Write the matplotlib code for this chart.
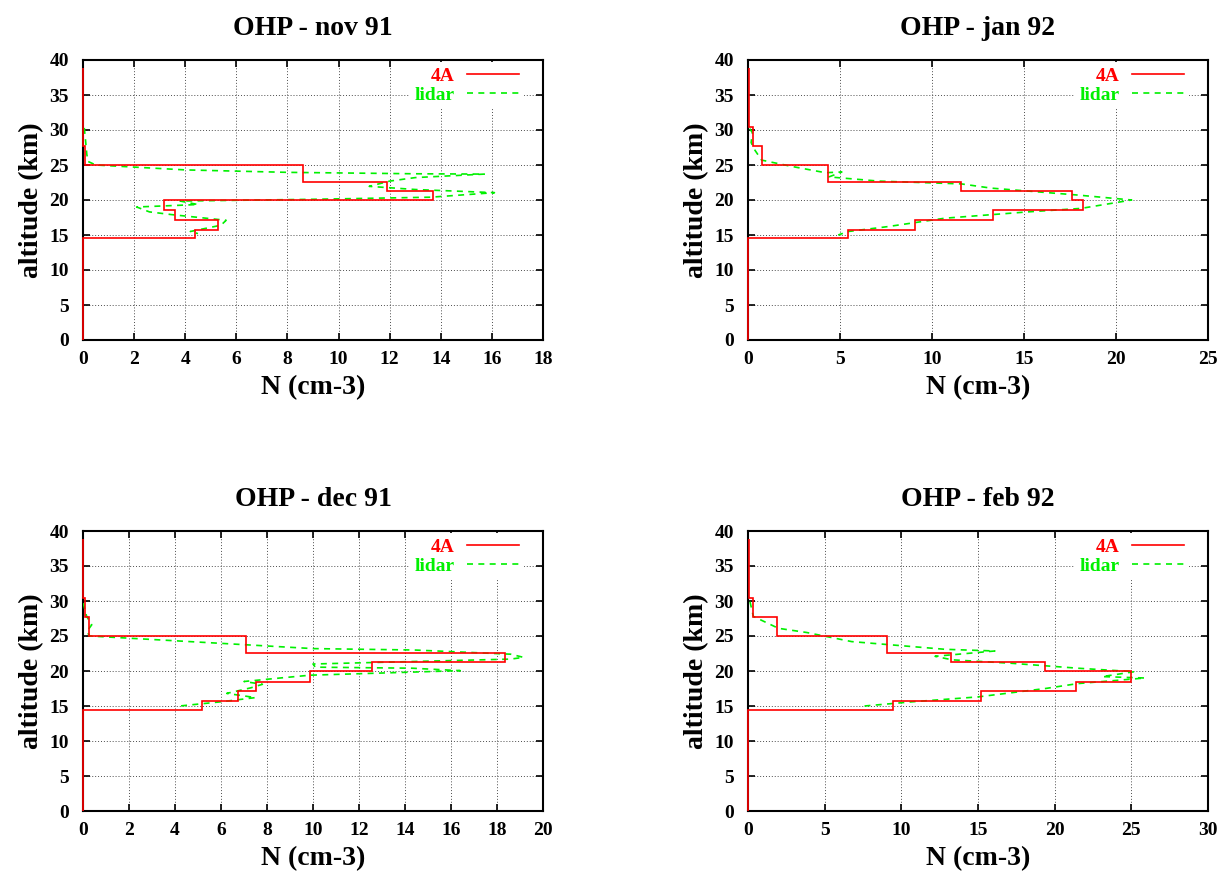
import matplotlib
matplotlib.use("Agg")
import matplotlib.pyplot as plt
from matplotlib.font_manager import FontProperties

plt.rcParams['font.family'] = ['Liberation Serif', 'DejaVu Serif']
plt.rcParams['font.weight'] = 'bold'

# ---------------- data ----------------
titles = ["OHP - nov 91", "OHP - jan 92", "OHP - dec 91", "OHP - feb 92"]
xmax = [18, 25, 20, 30]
xstep = [2, 5, 2, 5]

# altitude bin edges (km) of the 4A step profiles
alt_edges = [0, 14.5, 15.75, 17.1, 18.5, 20.0, 21.35, 22.55, 25.0, 27.65, 30.4, 38.8]

n4a_nov91 = [0, 4.4, 5.3, 3.6, 3.15, 13.7, 11.9, 8.6, 0.09, 0.01, 0]
n4a_jan92 = [0, 5.45, 9.1, 13.3, 18.2, 17.6, 11.6, 4.37, 0.78, 0.27, 0.04]
n4a_dec91 = [0, 5.16, 6.75, 7.52, 9.87, 12.55, 18.35, 7.07, 0.26, 0.09, 0]
n4a_feb92 = [0, 9.43, 15.2, 21.4, 24.98, 19.37, 13.24, 9.05, 1.87, 0.35, 0.07]

# lidar profiles (N, altitude)
lid_nov91_n = [0.05, 0.1, 0.15, 0.2, 0.5, 4.0, 8.0, 12.9, 15.7, 13.0, 12.0, 11.2,
               13.0, 16.1, 13.6, 9.0, 3.8, 4.5, 2.1, 2.6, 3.5, 5.6, 5.4, 4.2, 4.5]
lid_nov91_z = [30.3, 28.5, 26.5, 25.5, 25.0, 24.3, 23.95, 23.75, 23.7, 23.2, 22.7, 21.95,
               21.5, 21.05, 20.4, 20.1, 19.85, 19.35, 19.0, 18.3, 17.9, 17.1, 16.4, 15.5, 15.2]

lid_jan92_n = [0.1, 0.24, 0.17, 0.38, 0.74, 2.37, 4.2, 5.1, 4.4, 7.1, 11.6, 13.2,
               17.95, 20.85, 18.1, 15.2, 10.7, 7.6, 5.45, 4.9]
lid_jan92_z = [30.2, 29.6, 28.2, 27.1, 25.7, 24.8, 23.9, 24.0, 23.3, 22.7, 22.3, 21.7,
               20.7, 20.0, 18.8, 18.3, 17.4, 16.2, 15.5, 15.0]

lid_dec91_n = [0.01, 0.16, 0.38, 0.16, 0.3, 6.0, 10.0, 14.4, 18.6, 19.15, 18.6, 10.0,
               10.1, 14.3, 16.4, 9.87, 8.57, 7.0, 7.8, 7.3, 6.25, 7.5, 6.0, 4.2]
lid_dec91_z = [29.7, 27.8, 26.6, 25.6, 25.0, 23.95, 23.2, 23.0, 22.4, 21.95, 21.7, 21.0,
               20.55, 20.4, 20.05, 19.4, 19.0, 18.5, 18.1, 17.6, 16.8, 16.2, 15.6, 15.0]

lid_feb92_n = [0.13, 0.35, 1.98, 3.83, 6.76, 12.85, 16.1, 12.2, 13.3, 17.2, 21.5,
               25.2, 23.1, 25.9, 21.5, 19.4, 15.0, 10.7, 7.6]
lid_feb92_z = [29.9, 27.8, 26.1, 25.5, 24.2, 23.1, 22.86, 22.1, 21.6, 21.1, 20.4,
               19.9, 19.2, 19.0, 18.2, 17.5, 16.3, 15.6, 15.0]

n4a = [n4a_nov91, n4a_jan92, n4a_dec91, n4a_feb92]
lid_n = [lid_nov91_n, lid_jan92_n, lid_dec91_n, lid_feb92_n]
lid_z = [lid_nov91_z, lid_jan92_z, lid_dec91_z, lid_feb92_z]

# ---------------- layout ----------------
W, H = 1220, 871
fig = plt.figure(figsize=(W / 100, H / 100), dpi=100)
boxes = [(83, 60), (748, 60), (83, 531), (748, 531)]  # left, top in pixels
aw, ah = 460, 280

legfont = FontProperties(family='Liberation Serif', weight='bold', size=14)

for i in range(4):
    l, t = boxes[i]
    ax = fig.add_axes([l / W, 1 - (t + ah) / H, aw / W, ah / H])
    ax.stairs(n4a[i], alt_edges, orientation='horizontal', baseline=None,
              color='#ff0000', lw=1.2, label='4A', zorder=4, clip_on=False)
    ax.plot(lid_n[i], lid_z[i], color='#00f000', lw=1.2, dashes=(3.6, 3.2),
            label='lidar', zorder=3)
    ax.set_xlim(0, xmax[i])
    ax.set_ylim(0, 40)
    ax.set_xticks(range(0, xmax[i] + 1, xstep[i]))
    ax.set_yticks(range(0, 41, 5))
    ax.tick_params(direction='in', length=5, width=1.2, top=True, right=True,
                   labelsize=14, pad=8)
    ax.tick_params(axis='y', pad=10)
    for lab in ax.get_xticklabels() + ax.get_yticklabels():
        lab.set_fontweight('bold')
    for sp in ax.spines.values():
        sp.set_linewidth(1.5)
    ax.grid(True, color='0.3', lw=0.7, linestyle=(0, (1, 2)))
    ax.set_axisbelow(True)
    ax.set_title(titles[i], fontsize=20, fontweight='bold', pad=18)
    ax.set_xlabel('N (cm-3)', fontsize=20, fontweight='bold', labelpad=5)
    ax.set_ylabel('altitude (km)', fontsize=20, fontweight='bold', labelpad=4)
    leg = ax.legend(loc='upper right', bbox_to_anchor=(0.959, 0.992),
                    borderaxespad=0, markerfirst=False, prop=legfont,
                    labelcolor='linecolor', handlelength=2.7, handletextpad=0.6,
                    labelspacing=0.1, borderpad=0.25, fancybox=False,
                    framealpha=1, facecolor='white', edgecolor='white')
    leg.get_frame().set_linewidth(0)

fig.savefig('out.png', dpi=100)
